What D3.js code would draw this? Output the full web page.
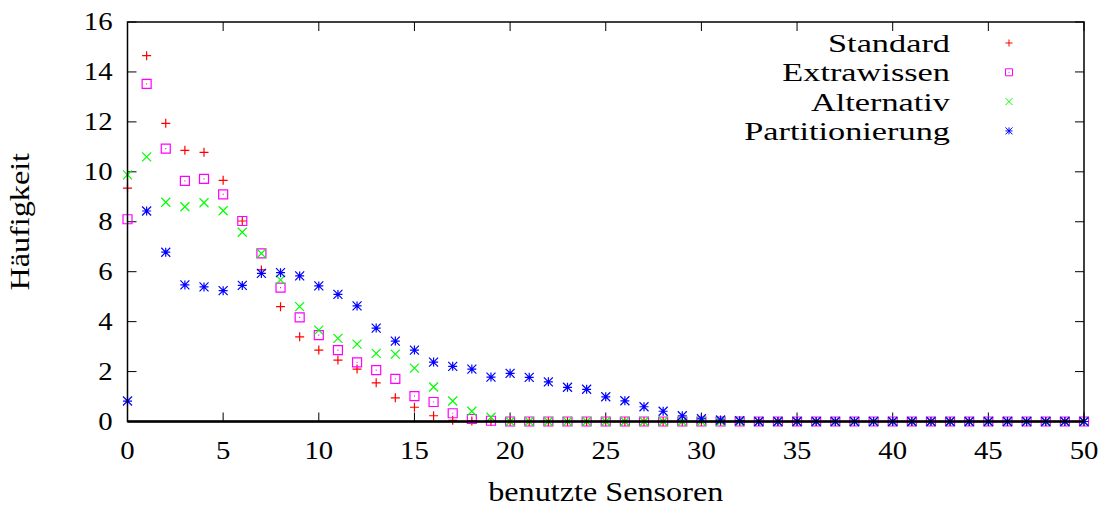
<!DOCTYPE html>
<html>
<head>
<meta charset="utf-8">
<script src="https://cdn.jsdelivr.net/npm/d3@7"></script>
<style>
  body { margin: 0; background: #fff; }
  svg text { font-family: "Palatino Linotype", Palatino, "URW Palladio L", "Liberation Serif", serif; fill: #000; }
</style>
</head>
<body>
<div id="chart"></div>
<script>
// sensors used 0..50
const sensors = d3.range(0, 51);
const zeros = n => Array.from({ length: n }, () => 0);

const standard = [9.35, 14.65, 11.94, 10.86, 10.78, 9.66, 8.03, 6.07, 4.6, 3.39, 2.86, 2.46, 2.1, 1.55, 0.95, 0.57, 0.23, 0.05, 0.02].concat(zeros(32));
const extrawissen = [8.1, 13.52, 10.93, 9.64, 9.72, 9.1, 8.03, 6.73, 5.36, 4.17, 3.46, 2.86, 2.37, 2.06, 1.71, 1.02, 0.78, 0.33, 0.1, 0.03].concat(zeros(31));
const alternativ = [9.88, 10.6, 8.78, 8.6, 8.76, 8.44, 7.58, 6.73, 5.67, 4.6, 3.66, 3.33, 3.1, 2.73, 2.7, 2.14, 1.38, 0.82, 0.41, 0.17].concat(zeros(31));
const partitionierung = [0.82, 8.43, 6.78, 5.47, 5.39, 5.24, 5.45, 5.93, 5.96, 5.83, 5.43, 5.09, 4.63, 3.74, 3.22, 2.86, 2.38, 2.21, 2.1, 1.78,
  1.93, 1.77, 1.59, 1.37, 1.29, 0.99, 0.83, 0.59, 0.41, 0.23, 0.11, 0.06, 0.03].concat(zeros(18));

const seriesNames = ['Standard', 'Extrawissen', 'Alternativ', 'Partitionierung'];
const seriesValues = [standard, extrawissen, alternativ, partitionierung];
const seriesColors = ['#ff0000', '#ff00ff', '#00ff00', '#0000ff'];
const seriesShapes = ['plus', 'box', 'cross', 'star'];

const xTicks = d3.range(0, 51, 5);
const yTicks = d3.range(0, 17, 2);

const width = 1104, height = 507;
const margin = { top: 22, right: 20, bottom: 85.5, left: 127.5 };

const x = d3.scaleLinear().domain([0, 50]).range([margin.left, width - margin.right]);
const y = d3.scaleLinear().domain([0, 16]).range([height - margin.bottom, margin.top]);

// the original font is wider than the serif we have, stretch it a bit
const wide = 1.15;

// point shapes, gnuplot style
const shapePath = (shape, r) => {
  const p = d3.path();
  if (shape === 'plus') {
    p.moveTo(-r, 0); p.lineTo(r, 0);
    p.moveTo(0, -r); p.lineTo(0, r);
  } else if (shape === 'cross') {
    p.moveTo(-r, -r); p.lineTo(r, r);
    p.moveTo(-r, r); p.lineTo(r, -r);
  } else if (shape === 'box') {
    p.rect(-r, -r, 2 * r, 2 * r);
    p.moveTo(-0.5, 0); p.lineTo(0.5, 0);
  } else if (shape === 'star') {
    p.moveTo(-r, 0); p.lineTo(r, 0);
    p.moveTo(0, -r); p.lineTo(0, r);
    p.moveTo(-r, -r); p.lineTo(r, r);
    p.moveTo(-r, r); p.lineTo(r, -r);
  }
  return p.toString();
};

const svg = d3.select('#chart').append('svg')
  .attr('width', width)
  .attr('height', height);

const plotW = x(50) - x(0);
const plotH = y(0) - y(16);
const tickLen = 9;

// ticks on all four sides, pointing inward
const ticks = svg.append('g').attr('stroke', '#000').attr('stroke-width', 1);
ticks.selectAll('line.xb').data(xTicks).enter().append('line')
  .attr('x1', d => x(d)).attr('x2', d => x(d))
  .attr('y1', y(0)).attr('y2', y(0) - tickLen);
ticks.selectAll('line.xt').data(xTicks).enter().append('line')
  .attr('x1', d => x(d)).attr('x2', d => x(d))
  .attr('y1', y(16)).attr('y2', y(16) + tickLen);
ticks.selectAll('line.yl').data(yTicks).enter().append('line')
  .attr('x1', x(0)).attr('x2', x(0) + tickLen)
  .attr('y1', d => y(d)).attr('y2', d => y(d));
ticks.selectAll('line.yr').data(yTicks).enter().append('line')
  .attr('x1', x(50)).attr('x2', x(50) - tickLen)
  .attr('y1', d => y(d)).attr('y2', d => y(d));

svg.append('g').selectAll('text').data(xTicks).enter().append('text')
  .attr('transform', d => `translate(${x(d)},${y(0) + 37}) scale(${wide},1)`)
  .attr('text-anchor', 'middle')
  .style('font-size', '25px')
  .text(d => d);

svg.append('g').selectAll('text').data(yTicks).enter().append('text')
  .attr('transform', d => `translate(${x(0) - 15},${y(d) + 8}) scale(${wide},1)`)
  .attr('text-anchor', 'end')
  .style('font-size', '25px')
  .text(d => d);

// points
seriesValues.forEach((vals, i) => {
  svg.append('g')
    .selectAll('path')
    .data(vals)
    .enter()
    .append('path')
    .attr('transform', (d, j) => `translate(${x(sensors[j])},${y(d)})`)
    .attr('d', shapePath(seriesShapes[i], 4.5))
    .attr('fill', 'none')
    .attr('stroke', seriesColors[i])
    .attr('stroke-width', 1.2);
});

// border
svg.append('rect')
  .attr('x', x(0)).attr('y', y(16))
  .attr('width', plotW).attr('height', plotH)
  .attr('fill', 'none')
  .attr('stroke', '#000')
  .attr('stroke-width', 1.5);

svg.append('line')
  .attr('x1', x(0)).attr('x2', x(50))
  .attr('y1', y(0)).attr('y2', y(0))
  .attr('stroke', '#000').attr('stroke-width', 2.5);

// legend
const legend = svg.append('g');
seriesNames.forEach((name, i) => {
  const ly = 43 + i * 29.3;
  legend.append('text')
    .attr('transform', `translate(950,${ly + 9}) scale(1.32,1)`)
    .attr('text-anchor', 'end')
    .style('font-size', '26px')
    .text(name);
  legend.append('path')
    .attr('transform', `translate(1009,${ly})`)
    .attr('d', shapePath(seriesShapes[i], 3.5))
    .attr('fill', 'none')
    .attr('stroke', seriesColors[i])
    .attr('stroke-width', 1);
});

svg.append('text')
  .attr('transform', `translate(${(x(0) + x(50)) / 2},501) scale(${wide},1)`)
  .attr('text-anchor', 'middle')
  .style('font-size', '28px')
  .text('benutzte Sensoren');

svg.append('text')
  .attr('transform', `translate(29,${(y(0) + y(16)) / 2}) rotate(-90) scale(${wide},1)`)
  .attr('text-anchor', 'middle')
  .style('font-size', '28px')
  .text('Häufigkeit');
</script>
</body>
</html>
